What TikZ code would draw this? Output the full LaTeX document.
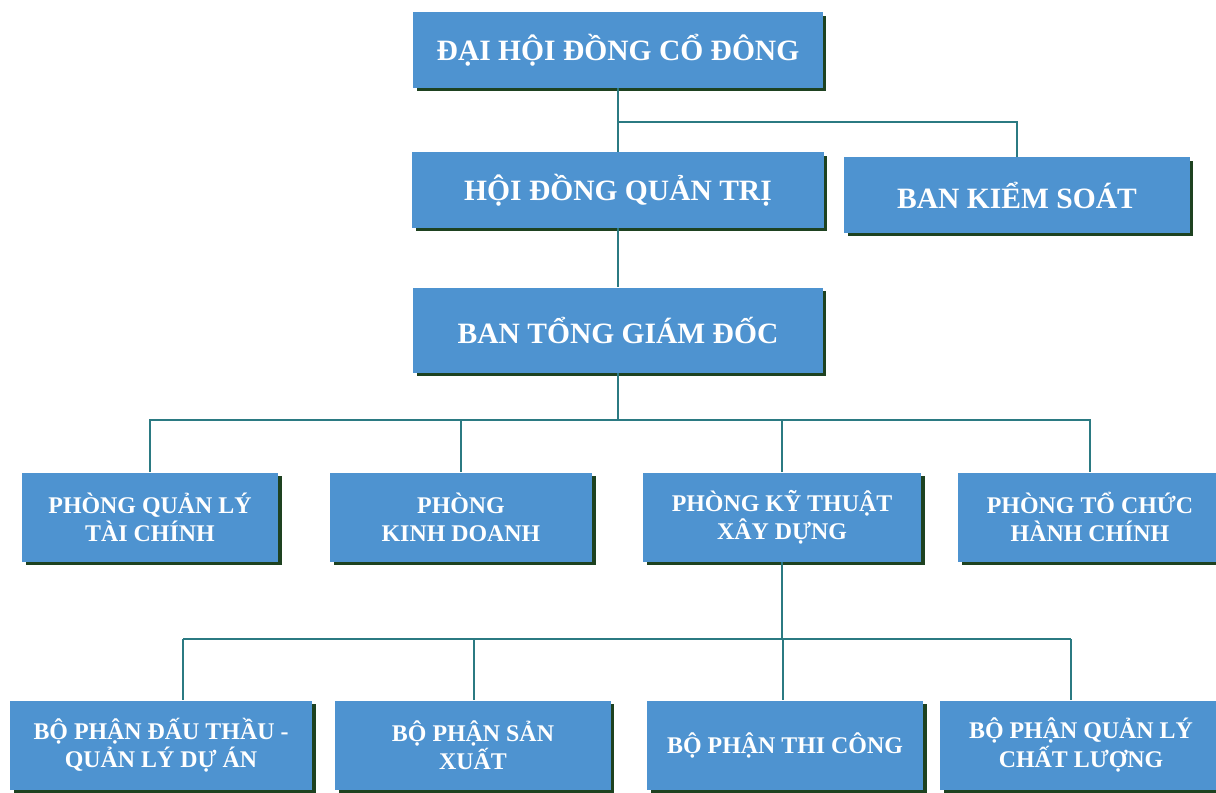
\documentclass[tikz,border=0pt]{standalone}
\usepackage{fontspec}
\setmainfont{Liberation Serif}
\usetikzlibrary{shadows}
\definecolor{boxblue}{HTML}{4E93D0}
\definecolor{boxshade}{HTML}{1E4220}
\definecolor{linkteal}{HTML}{2B7A82}

\begin{document}
\begin{tikzpicture}[x=0.025cm, y=-0.025cm,
  box/.style={fill=boxblue, text=white, align=center, inner sep=0pt,
    drop shadow={fill=boxshade, opacity=1, shadow xshift=0.9mm, shadow yshift=-0.9mm}},
  big/.style={box, font=\fontsize{21}{25}\selectfont\bfseries, minimum height=1.875cm},
  small/.style={box, font=\fontsize{17}{20}\selectfont\bfseries, minimum height=2.225cm},
  link/.style={draw=linkteal, line width=1.3pt}]
\useasboundingbox (0,0) rectangle (1216,792);
\clip (0,0) rectangle (1216,792);

% top levels
\node[big, minimum width=10.225cm] (dhcd) at (618,50) {ĐẠI HỘI ĐỒNG CỔ ĐÔNG};
\node[big, minimum width=10.275cm] (hdqt) at (618,190) {HỘI ĐỒNG QUẢN TRỊ};
\node[big, minimum width=8.625cm] (bks) at (1017,195) {BAN KIỂM SOÁT};
\node[big, minimum width=10.225cm, minimum height=2.125cm] (btgd) at (618,330) {BAN TỔNG GIÁM ĐỐC};

% phong ban
\node[small, minimum width=6.4cm] (p1) at (150,517) {PHÒNG QUẢN LÝ\\TÀI CHÍNH};
\node[small, minimum width=6.55cm] (p2) at (461,517) {PHÒNG\\KINH DOANH};
\node[small, minimum width=6.95cm] (p3) at (782,517) {PHÒNG KỸ THUẬT\\XÂY DỰNG};
\node[small, minimum width=6.6cm] (p4) at (1090,517) {PHÒNG TỔ CHỨC\\HÀNH CHÍNH};

% bo phan
\node[small, minimum width=7.55cm] (q1) at (161,745) {BỘ PHẬN ĐẤU THẦU -\\QUẢN LÝ DỰ ÁN};
\node[small, minimum width=6.875cm] (q2) at (473,745) {BỘ PHẬN SẢN\\XUẤT};
\node[small, minimum width=6.9cm] (q3) at (785,745) {BỘ PHẬN THI CÔNG};
\node[small, minimum width=7.025cm] (q4) at (1081,745) {BỘ PHẬN QUẢN LÝ\\CHẤT LƯỢNG};

% connectors
\draw[link] (dhcd.south) -- (hdqt.north);
\coordinate (split) at (dhcd.south |- 0,122);
\draw[link] (split) -| (bks.north);
\draw[link] (hdqt.south) -- (btgd.north);

\coordinate (bus1) at (btgd.south |- 0,420);
\draw[link] (btgd.south) -- (bus1);
\draw[link] (p1.north) -- (p1.north |- bus1) -- (p4.north |- bus1) -- (p4.north);
\foreach \n in {p2,p3}
  \draw[link] (\n.north) -- (\n.north |- bus1);

\coordinate (bus2) at (p3.south |- 0,639);
\draw[link] (p3.south) -- (bus2);
\foreach \n/\x in {q1/183, q2/474, q3/783, q4/1071}{
  \coordinate (t\n) at (\x,639);
  \draw[link] (t\n) -- (t\n |- \n.north);}
\draw[link] (tq1) -- (tq4);

\end{tikzpicture}
\end{document}
